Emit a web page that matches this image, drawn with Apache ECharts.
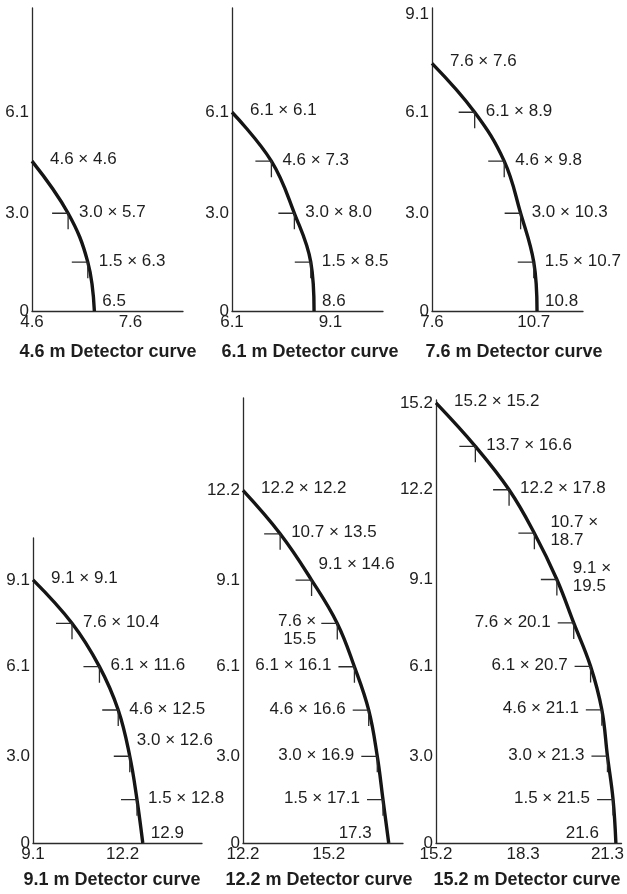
<!DOCTYPE html>
<html><head><meta charset="utf-8">
<script src="https://cdn.jsdelivr.net/npm/echarts@6/dist/echarts.min.js"></script>
<style>html,body{margin:0;padding:0;background:#fff}#c{width:627px;height:894px}</style>
</head><body><div id="c"></div>
<script>
// ---------- data ----------
const titles = ['4.6 m Detector curve','6.1 m Detector curve','7.6 m Detector curve',
                '9.1 m Detector curve','12.2 m Detector curve','15.2 m Detector curve'];

const heights1 = [4.6, 3.0, 1.5, 0];
const widths1  = [4.6, 5.7, 6.3, 6.5];

const heights2 = [6.1, 4.6, 3.0, 1.5, 0];
const widths2  = [6.1, 7.3, 8.0, 8.5, 8.6];

const heights3 = [7.6, 6.1, 4.6, 3.0, 1.5, 0];
const widths3  = [7.6, 8.9, 9.8, 10.3, 10.7, 10.8];

const heights4 = [9.1, 7.6, 6.1, 4.6, 3.0, 1.5, 0];
const widths4  = [9.1, 10.4, 11.6, 12.5, 12.6, 12.8, 12.9];
// where the drawn curve actually crosses each height in the 9.1 m panel
const curveX4  = [9.1, 10.45, 11.4, 12.05, 12.45, 12.7, 12.9];

const heights5 = [12.2, 10.7, 9.1, 7.6, 6.1, 4.6, 3.0, 1.5, 0];
const widths5  = [12.2, 13.5, 14.6, 15.5, 16.1, 16.6, 16.9, 17.1, 17.3];

const heights6 = [15.2, 13.7, 12.2, 10.7, 9.1, 7.6, 6.1, 4.6, 3.0, 1.5, 0];
const widths6  = [15.2, 16.6, 17.8, 18.7, 19.5, 20.1, 20.7, 21.1, 21.3, 21.5, 21.6];

const yTicks1 = ['0','3.0','6.1'];
const yTicks2 = ['0','3.0','6.1'];
const yTicks3 = ['0','3.0','6.1','9.1'];
const yTicks4 = ['0','3.0','6.1','9.1'];
const yTicks5 = ['0','3.0','6.1','9.1','12.2'];
const yTicks6 = ['0','3.0','6.1','9.1','12.2','15.2'];

const xTicks1 = ['4.6','7.6'];
const xTicks2 = ['6.1','9.1'];
const xTicks3 = ['7.6','10.7'];
const xTicks4 = ['9.1','12.2'];
const xTicks5 = ['12.2','15.2'];
const xTicks6 = ['15.2','18.3','21.3'];

// ---------- layout / style ----------
const FONT = '"Liberation Sans", Arial, Helvetica, sans-serif';
const TXT = '#1e1e1e';
const LINE = '#2b2b2b';

const panels = [
  {h:heights1, w:widths1, x:widths1, yt:yTicks1, xt:xTicks1,
   grid:{left:32, top:8, width:151, height:303}, xr:[4.6,9.2], yr:[0,9.3],
   place:['s','r','r','e'], title:[108,352]},
  {h:heights2, w:widths2, x:widths2, yt:yTicks2, xt:xTicks2,
   grid:{left:232, top:8, width:151, height:303}, xr:[6.1,10.7], yr:[0,9.3],
   place:['s','r','r','r','e'], title:[310,352]},
  {h:heights3, w:widths3, x:widths3, yt:yTicks3, xt:xTicks3,
   grid:{left:432, top:8, width:151, height:303}, xr:[7.6,12.2], yr:[0,9.3],
   place:['s','r','r','r','r','e'], title:[514,352]},
  {h:heights4, w:widths4, x:curveX4, yt:yTicks4, xt:xTicks4,
   grid:{left:33, top:538, width:169, height:305}, xr:[9.1,14.95], yr:[0,10.55],
   place:['s','r','r','r','ra','r','e'], title:[112,880]},
  {h:heights5, w:widths5, x:widths5, yt:yTicks5, xt:xTicks5,
   grid:{left:243, top:398, width:160, height:445}, xr:[12.2,17.8], yr:[0,15.4],
   place:['s','r','ra','l2','l','l','l','l','el'], title:[319,880]},
  {h:heights6, w:widths6, x:widths6, yt:yTicks6, xt:xTicks6,
   grid:{left:436, top:400, width:189, height:443}, xr:[15.2,21.8], yr:[0,15.3],
   place:['s','r','r','r2','r2','l','l','l','l','l','el'], title:[527,880]}
];

const offsets = {
  s:  {dx:18,  dy:-2,  align:'left'},
  r:  {dx:11,  dy:-1,  align:'left'},
  ra: {dx:7,   dy:-16, align:'left'},
  r2: {dx:16,  dy:-2,  align:'left'},
  l:  {dx:-23, dy:-1,  align:'right'},
  l2: {dx:-21, dy:7,   align:'right'},
  e:  {dx:8,   dy:-10, align:'left'},
  el: {dx:-17, dy:-10, align:'right'}
};

const fmt = v => v.toFixed(1);

function makeRender(pn) {
  return function (params, api) {
    const i = params.dataIndex;
    const n = pn.h.length;
    const p = api.coord([api.value(0), api.value(1)]);
    const code = pn.place[i];
    const children = [];
    if (i > 0 && i < n - 1) {
      children.push({
        type: 'polyline',
        shape: {points: [[p[0] - 16, p[1]], [p[0], p[1]], [p[0], p[1] + 16]]},
        style: {stroke: LINE, lineWidth: 1.3, fill: 'none'}
      });
    }
    let text;
    if (i === n - 1) text = fmt(pn.w[i]);
    else text = fmt(pn.h[i]) + (code.endsWith('2') ? ' \u00d7\n' : ' \u00d7 ') + fmt(pn.w[i]);
    const o = offsets[code];
    children.push({
      type: 'text', x: p[0] + o.dx, y: p[1] + o.dy,
      style: {text: text, fill: TXT, font: '17px ' + FONT, align: o.align,
              verticalAlign: 'middle', lineHeight: 18}
    });
    return {type: 'group', children: children};
  };
}

const pickLabel = arr => v => {
  const t = arr.find(s => Math.abs(Number(s) - v) < 1e-6);
  return t === undefined ? '' : t;
};

const option = {
  animation: false,
  backgroundColor: '#fff',
  grid: [], xAxis: [], yAxis: [], series: [], graphic: []
};

panels.forEach((pn, k) => {
  option.grid.push(Object.assign({containLabel: false}, pn.grid));
  option.xAxis.push({
    type: 'value', gridIndex: k, min: pn.xr[0], max: pn.xr[1],
    axisLine: {show: true, onZero: false, lineStyle: {color: LINE, width: 1.3}},
    axisTick: {show: false}, splitLine: {show: false},
    axisLabel: {customValues: pn.xt.map(Number), formatter: pickLabel(pn.xt),
                color: TXT, fontSize: 17, fontFamily: FONT, margin: 3,
                showMinLabel: true, showMaxLabel: true}
  });
  option.yAxis.push({
    type: 'value', gridIndex: k, min: pn.yr[0], max: pn.yr[1],
    axisLine: {show: true, onZero: false, lineStyle: {color: LINE, width: 1.3}},
    axisTick: {show: false}, splitLine: {show: false},
    axisLabel: {customValues: pn.yt.map(Number), formatter: pickLabel(pn.yt),
                color: TXT, fontSize: 17, fontFamily: FONT, margin: 3,
                showMinLabel: true, showMaxLabel: true}
  });
  const pts = pn.x.map((x, i) => [x, pn.h[i]]);
  option.series.push({
    type: 'line', xAxisIndex: k, yAxisIndex: k, data: pts,
    smooth: 0.4, showSymbol: false, symbol: 'none',
    lineStyle: {color: '#151515', width: 3.4}, silent: true, z: 3
  });
  option.series.push({
    type: 'custom', xAxisIndex: k, yAxisIndex: k, data: pts,
    renderItem: makeRender(pn), silent: true, z: 4
  });
  option.graphic.push({
    type: 'text', x: pn.title[0], y: pn.title[1],
    style: {text: titles[k], fill: TXT, font: 'bold 18px ' + FONT,
            align: 'center', verticalAlign: 'middle'}
  });
});

const chart = echarts.init(document.getElementById('c'), null, {renderer: 'canvas'});
chart.setOption(option);
</script>
</body></html>
